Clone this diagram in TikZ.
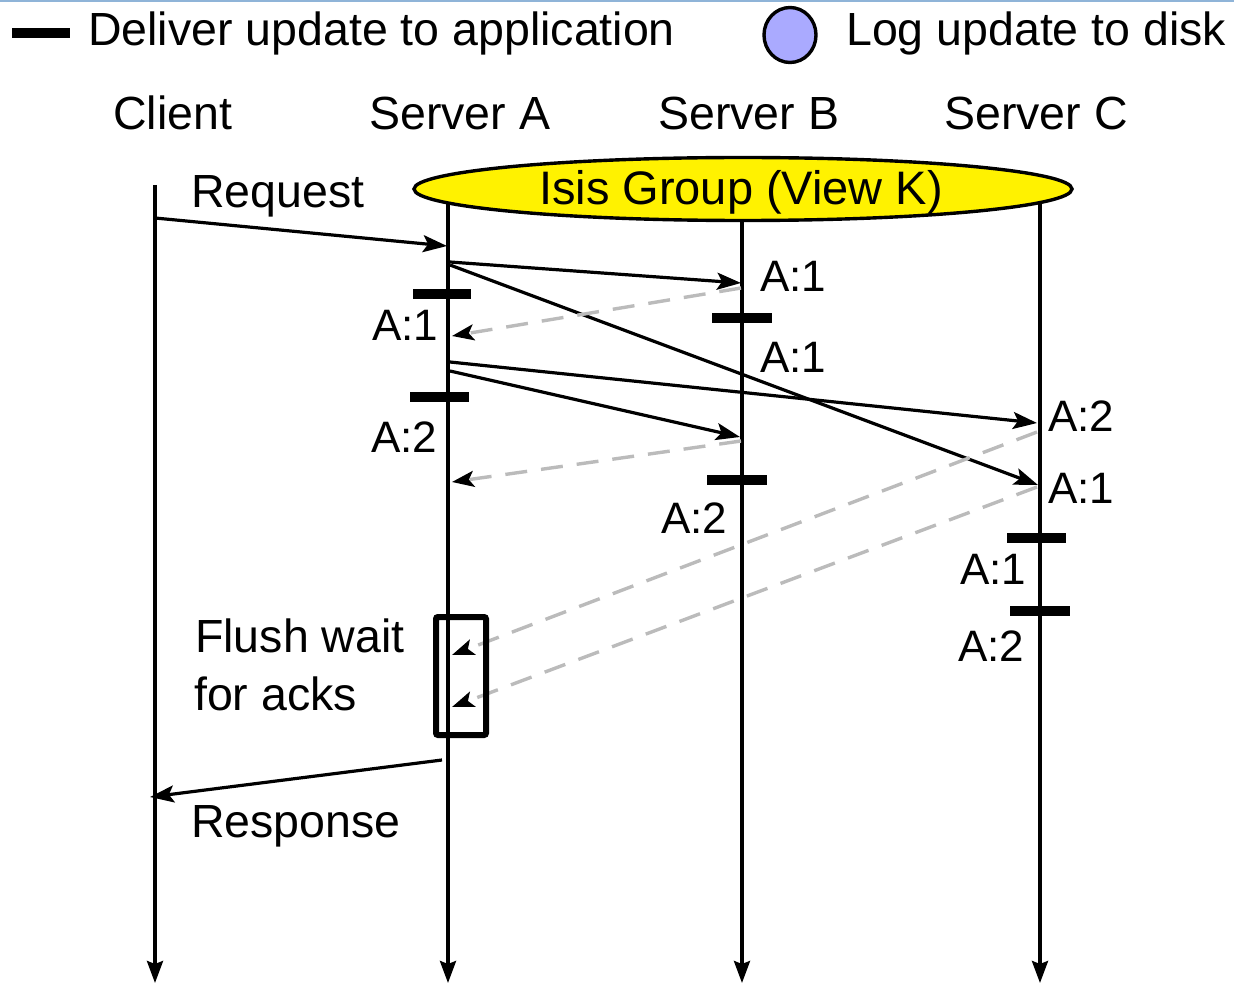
\documentclass[tikz,border=0pt]{standalone}
\usepackage{fontspec}
\setmainfont{Liberation Sans}
\usetikzlibrary{arrows.meta,shapes.geometric}
\definecolor{ackgray}{HTML}{BBBBBB}
\definecolor{logblue}{HTML}{AAAAFF}
\definecolor{rulecol}{HTML}{8FB4D8}
\begin{document}
\begin{tikzpicture}[x=1pt,y=-1pt,
  txt/.style={font=\fontsize{46.5}{50}\selectfont, inner sep=0pt, anchor=base west},
  tag/.style={font=\fontsize{44}{48}\selectfont, inner sep=0pt, anchor=base west},
  life/.style={line width=3.4pt, -{Stealth[length=22pt,width=16pt,inset=3pt]}},
  msg/.style={line width=3.2pt, -{Stealth[length=24pt,width=17pt,inset=5pt]}},
  ack/.style={line width=3.4pt, draw=ackgray, dash pattern=on 22pt off 14pt,
    -{Stealth[length=22pt,width=16pt,inset=5pt,color=black]}},
  deliver/.style={line width=9.5pt},
]
\useasboundingbox (0,0) rectangle (1234,984);

% thin rule along the top edge
\coordinate (ruleL) at (0,1);
\coordinate (ruleR) at (1234,1);
\draw[rulecol, line width=2.5pt] (ruleL) -- (ruleR);

% legend
\coordinate (legA) at (12,33);
\coordinate (legB) at (70,33);
\draw[deliver] (legA) -- (legB);
\node[txt] (legdeliver) at (88,46) {Deliver update to application};
\node[ellipse, draw, line width=3.4pt, fill=logblue, minimum width=52pt, minimum height=55pt, inner sep=0pt] (legdisk) at (790,35) {};
\node[txt] (leglog) at (846,46) {Log update to disk};

% column headers
\node[txt] (hclient) at (113,130) {Client};
\node[txt] (hA) at (369,130) {Server A};
\node[txt] (hB) at (658,130) {Server B};
\node[txt] (hC) at (944,130) {Server C};

% lifelines
\coordinate (cT) at (155,185);  \coordinate (cB) at (155,983);
\coordinate (aT) at (448,195);  \coordinate (aB) at (448,983);
\coordinate (bT) at (742,195);  \coordinate (bB) at (742,983);
\coordinate (sT) at (1040,195); \coordinate (sB) at (1040,983);
\draw[life] (cT) -- (cB);
\draw[life] (aT) -- (aB);
\draw[life] (bT) -- (bB);
\draw[life] (sT) -- (sB);

% process group
\node[ellipse, draw, line width=3.4pt, fill=yellow, minimum width=658pt, minimum height=63pt, inner sep=0pt] (group) at (743,189) {};
\node[font=\fontsize{47}{50}\selectfont, inner sep=0pt, anchor=base] (grouplbl) at (741,205) {Isis Group (View K)};

% request
\coordinate (req0) at (155,218); \coordinate (req1) at (447,246);
\draw[msg] (req0) -- (req1);
\node[txt] (reqlbl) at (191,208) {Request};

% multicasts from A
\coordinate (m1a) at (450,262);  \coordinate (m1b) at (741,283);
\coordinate (m2a) at (450,265);  \coordinate (m2b) at (1038,485);
\coordinate (m3a) at (450,362);  \coordinate (m3b) at (1037,423);
\coordinate (m4a) at (450,371);  \coordinate (m4b) at (740,437);
\draw[msg] (m1a) -- (m1b);
\draw[msg] (m2a) -- (m2b);
\draw[msg] (m3a) -- (m3b);
\draw[msg] (m4a) -- (m4b);

% acknowledgements back to A
\coordinate (k1a) at (741,288);  \coordinate (k1b) at (452,336);
\coordinate (k2a) at (741,441);  \coordinate (k2b) at (452,482);
\coordinate (k3a) at (1037,432); \coordinate (k3b) at (452,655);
\coordinate (k4a) at (1037,487); \coordinate (k4b) at (452,707);
\draw[ack] (k1a) -- (k1b);
\draw[ack] (k2a) -- (k2b);
\draw[ack] (k3a) -- (k3b);
\draw[ack] (k4a) -- (k4b);

% deliveries to the application
\coordinate (dA1a) at (413,294);  \coordinate (dA1b) at (471,294);
\coordinate (dA2a) at (410,397);  \coordinate (dA2b) at (469,397);
\coordinate (dB1a) at (712,318);  \coordinate (dB1b) at (772,318);
\coordinate (dB2a) at (707,480);  \coordinate (dB2b) at (767,480);
\coordinate (dC1a) at (1007,538); \coordinate (dC1b) at (1066,538);
\coordinate (dC2a) at (1010,611); \coordinate (dC2b) at (1070,611);
\draw[deliver] (dA1a) -- (dA1b);
\draw[deliver] (dA2a) -- (dA2b);
\draw[deliver] (dB1a) -- (dB1b);
\draw[deliver] (dB2a) -- (dB2b);
\draw[deliver] (dC1a) -- (dC1b);
\draw[deliver] (dC2a) -- (dC2b);

% message tags
\node[tag] (tB1) at (760,291) {A:1};
\node[tag] (tA1) at (372,340) {A:1};
\node[tag] (tB1d) at (760,372) {A:1};
\node[tag] (tC2) at (1048,431) {A:2};
\node[tag] (tA2) at (371,452) {A:2};
\node[tag] (tC1) at (1048,503) {A:1};
\node[tag] (tB2d) at (661,533) {A:2};
\node[tag] (tC1d) at (960,584) {A:1};
\node[tag] (tC2d) at (958,661) {A:2};

% flush
\node[draw, line width=6pt, rounded corners=2pt, minimum width=50pt, minimum height=118pt, inner sep=0pt] (flush) at (461,676) {};
\node[txt] (flush1) at (195,652) {Flush wait};
\node[txt] (flush2) at (194,710) {for acks};

% response
\coordinate (resp0) at (442,760); \coordinate (resp1) at (150,797);
\draw[msg] (resp0) -- (resp1);
\node[txt] (resplbl) at (191,837) {Response};
\end{tikzpicture}
\end{document}
